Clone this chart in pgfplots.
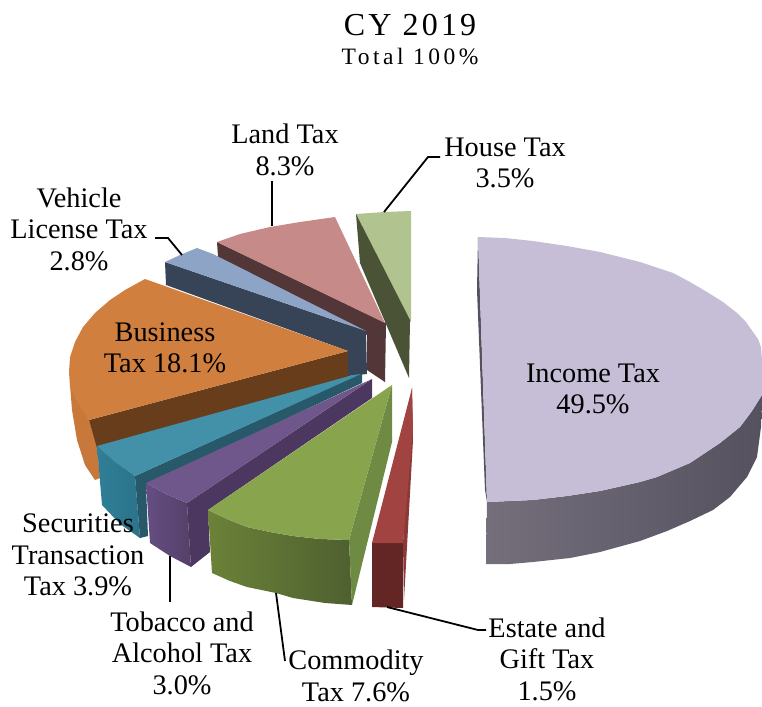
\documentclass[border=0pt]{standalone}
\usepackage{fontspec}
\setmainfont{Liberation Serif}
\usepackage{pgfplots}
\pgfplotsset{compat=1.18}
\definecolor{inctop}{HTML}{C6BED6}
\definecolor{incl}{HTML}{756F7C}
\definecolor{incm}{HTML}{4F4B57}
\definecolor{incr}{HTML}{55515E}
\definecolor{hstop}{HTML}{B1C48F}
\definecolor{hsside}{HTML}{4B5337}
\definecolor{lndtop}{HTML}{C68A88}
\definecolor{lndside}{HTML}{533738}
\definecolor{vehtop}{HTML}{8EA4C6}
\definecolor{vehside}{HTML}{374357}
\definecolor{bustop}{HTML}{D07F3E}
\definecolor{busside}{HTML}{673D1B}
\definecolor{busedge}{HTML}{C7783A}
\definecolor{sectop}{HTML}{4291A9}
\definecolor{secside}{HTML}{27596A}
\definecolor{secl}{HTML}{2F7F97}
\definecolor{secr}{HTML}{2B7389}
\definecolor{tobtop}{HTML}{6F578C}
\definecolor{tobside}{HTML}{4B375F}
\definecolor{tobl}{HTML}{654E82}
\definecolor{tobr}{HTML}{554069}
\definecolor{comtop}{HTML}{88A44D}
\definecolor{comside}{HTML}{6E8A43}
\definecolor{coml}{HTML}{6B8238}
\definecolor{comr}{HTML}{4F6030}
\definecolor{estop}{HTML}{A04341}
\definecolor{esside}{HTML}{8A3936}
\definecolor{esfront}{HTML}{642525}
\tikzset{lab/.style={align=center, inner sep=0pt, font=\fontsize{28.3}{31.5}\selectfont}}
\begin{document}
\begin{tikzpicture}
\path[use as bounding box] (0,0) rectangle (762pt,706pt);
\begin{axis}[
  at={(0,0)}, anchor=south west,
  scale only axis, width=762pt, height=706pt,
  xmin=0, xmax=762, ymin=0, ymax=706, y dir=reverse,
  axis lines=none, clip=false,
]
% House Tax
\addplot[fill=hstop,draw=none] coordinates {(356,214)(384,212)(411,211)(411,322)(409,322)};
\addplot[fill=hsside,draw=none] coordinates {(356,214)(360,263)(409,378)(410,320)};
% Land Tax
\addplot[fill=lndside,draw=none] coordinates {(217,242)(218,257)(367,335)(367,370)(385,382)(386,323)};
\addplot[fill=lndtop,draw=none] coordinates {(217,242)(240,234)(270,227)(300,222)(335,217)(385,323)};
% Vehicle License Tax
\addplot[fill=vehside,draw=none] coordinates {(165,262)(166,285)(348,351)(348,376)(367,374)(366,331)};
\addplot[fill=vehtop,draw=none] coordinates {(165,262)(180,255)(197,248)(213,254)(366,331)};
% Business Tax
\addplot[fill=busedge,draw=none] coordinates {(70,385)(72,410)(77,440)(85,465)(95,480)(100,478)(97,446)(89,420)};
\addplot[fill=busside,draw=none] coordinates {(89,420)(348,351)(348,378)(97,448)};
\addplot[fill=bustop,draw=none] coordinates {(145,279)(125,290)(110,300)(95,313)(83,327)(75,342)(70,357)(69,372)(70,387)(78,403)(89,420)(348,351)};
% Securities Transaction Tax
\addplot[left color=secl,right color=secr,draw=none] coordinates {(97,446)(102,505)(120,524)(140,538)(135,476)};
\addplot[fill=secside,draw=none] coordinates {(135,476)(360,374)(362,374)(362,383)(146,485)(148,536)(140,538)};
\addplot[fill=sectop,draw=none] coordinates {(97,446)(115,462)(135,476)(361,374)(353,375)};
% Tobacco and Alcohol Tax
\addplot[left color=tobl,right color=tobr,draw=none] coordinates {(146,483)(150,543)(170,556)(191,567)(187,503)(166,494)};
\addplot[fill=tobside,draw=none] coordinates {(187,503)(191,567)(210,552)(208,510)(372,398)(372,379)};
\addplot[fill=tobtop,draw=none] coordinates {(146,483)(166,494)(187,503)(372,379)};
% Commodity Tax
\addplot[left color=coml,right color=comr,draw=none] coordinates {(208,510)(212,573)(230,581)(247,587)(276,593)(293,598)(325,603)(352,605)(349,540)(320,539)(293,536)(270,532)(247,527)(227,519)};
\addplot[fill=comside,draw=none] coordinates {(349,540)(352,605)(392,442)(392,385)};
\addplot[fill=comtop,draw=none] coordinates {(208,510)(227,519)(247,527)(270,532)(293,536)(320,539)(349,540)(392,385)};
% Estate and Gift Tax
\addplot[fill=esside,draw=none] coordinates {(412,388)(413,440)(404,600)(403,543)};
\addplot[fill=esfront,draw=none] coordinates {(372,543)(403,543)(403,608)(372,607)};
\addplot[fill=estop,draw=none] coordinates {(412,388)(372,543)(403,543)(413,430)};
% Income Tax
\addplot[fill=incr,draw=none] coordinates {(478,237)(477,290)(485,490)(487,502)};
\addplot[left color=incl,middle color=incm,right color=incr,draw=none] coordinates {(487,502)(486,564)(510,564)(533,562)(570,558)(600,552)(640,541)(667,531)(690,521)(713,510)(730,497)(747,477)(757,457)(761,427)(762,395)(752,411)(740,427)(720,443)(690,463)(657,477)(640,482)(600,491)(567,496)(533,500)};
\addplot[fill=inctop,draw=none] coordinates {(478,237)(505,238)(533,241)(567,246)(600,252)(640,262)(673,273)(690,282)(707,292)(723,302)(737,313)(746,322)(753,332)(758,339)(761,347)(762,360)(762,373)(762,395)(752,411)(740,427)(720,443)(690,463)(657,477)(640,482)(600,491)(567,496)(533,500)(487,502)};
% leader lines
\addplot[black,line width=1.8pt] coordinates {(384,212)(428,157)(440,157)};
\addplot[black,line width=1.8pt] coordinates {(272,226)(272,181)};
\addplot[black,line width=1.8pt] coordinates {(155,238)(168,238)(182,255)};
\addplot[black,line width=1.8pt] coordinates {(387,607)(478,630)(486,630)};
\addplot[black,line width=1.8pt] coordinates {(276,593)(285,661)};
\addplot[black,line width=1.8pt] coordinates {(170,556)(170,602)};
% labels
\node[inner sep=0pt, font=\fontsize{32}{36}\selectfont\addfontfeatures{LetterSpace=10}] at (axis cs:410,25) {CY 2019};
\node[inner sep=0pt, font=\fontsize{23.5}{26}\selectfont\addfontfeatures{LetterSpace=15}] at (axis cs:410,57) {Total 100\%};
\node[lab] at (axis cs:285,150) {Land Tax\\8.3\%};
\node[lab] at (axis cs:505,163) {House Tax\\3.5\%};
\node[lab] at (axis cs:79,229) {Vehicle\\License Tax\\2.8\%};
\node[lab] at (axis cs:165,348) {Business\\Tax 18.1\%};
\node[lab] at (axis cs:593,389) {Income Tax\\49.5\%};
\node[lab] at (axis cs:78,555) {Securities\\Transaction\\Tax 3.9\%};
\node[lab] at (axis cs:182,653) {Tobacco and\\Alcohol Tax\\3.0\%};
\node[lab] at (axis cs:356,676) {Commodity\\Tax 7.6\%};
\node[lab] at (axis cs:547,659) {Estate and\\Gift Tax\\1.5\%};
\end{axis}
\end{tikzpicture}
\end{document}
